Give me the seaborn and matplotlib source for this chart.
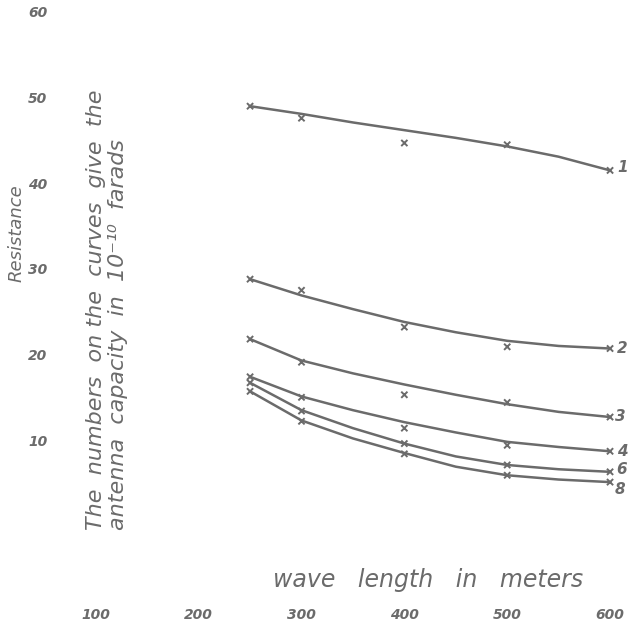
import matplotlib
matplotlib.use("Agg")
import matplotlib.pyplot as plt
import seaborn as sns
import pandas as pd

# values
wave = [250, 300, 350, 400, 450, 500, 550, 600]
curve_1 = [49.0, 48.1, 47.1, 46.2, 45.3, 44.3, 43.1, 41.5]
curve_2 = [28.8, 26.9, 25.3, 23.8, 22.6, 21.6, 21.0, 20.7]
curve_3 = [21.8, 19.3, 17.8, 16.5, 15.3, 14.2, 13.3, 12.7]
curve_4 = [17.4, 15.1, 13.5, 12.1, 10.9, 9.8, 9.2, 8.7]
curve_6 = [16.7, 13.5, 11.4, 9.6, 8.1, 7.1, 6.6, 6.3]
curve_8 = [15.7, 12.3, 10.2, 8.5, 6.9, 5.9, 5.4, 5.1]

meas_wave = [250, 300, 400, 500, 600]
meas_1 = [49.0, 47.6, 44.7, 44.5, 41.5]
meas_2 = [28.8, 27.5, 23.2, 20.9, 20.7]
meas_3 = [21.8, 19.1, 15.3, 14.4, 12.7]
meas_4 = [17.4, 15.0, 11.4, 9.4, 8.7]
meas_6 = [16.7, 13.4, 9.6, 7.1, 6.3]
meas_8 = [15.7, 12.2, 8.4, 5.9, 5.1]

curve_names = ["1", "2", "3", "4", "6", "8"]
xticks = [100, 200, 300, 400, 500, 600]
yticks = [10, 20, 30, 40, 50, 60]

curves = [curve_1, curve_2, curve_3, curve_4, curve_6, curve_8]
meas = [meas_1, meas_2, meas_3, meas_4, meas_6, meas_8]

line_df = pd.concat([pd.DataFrame({"wave": wave, "R": c, "curve": n})
                     for c, n in zip(curves, curve_names)])
meas_df = pd.concat([pd.DataFrame({"wave": meas_wave, "R": m, "curve": n})
                     for m, n in zip(meas, curve_names)])

ink = "#6b6b6b"
sns.set_style("white")
plt.rcParams["font.family"] = ["DejaVu Sans"]

fig = plt.figure(figsize=(6.3, 6.3), dpi=100)
ax = fig.add_axes([60 / 630, 40 / 630, 570 / 630, 590 / 630])

pal = {n: ink for n in curve_names}
sns.lineplot(data=line_df, x="wave", y="R", hue="curve", palette=pal,
             linewidth=1.8, legend=False, ax=ax)
sns.scatterplot(data=meas_df, x="wave", y="R", hue="curve", palette=pal,
                marker="x", s=20, linewidth=1.4, legend=False, ax=ax)

# numbers at the right end of each curve
label_off = {"1": (13, 3), "2": (12, 0), "3": (10, 1), "4": (12, 0), "6": (11, 2), "8": (10, -7)}
for c, n in zip(curves, curve_names):
    ax.annotate(n, (wave[-1], c[-1]), xytext=label_off[n], textcoords="offset pixels",
                ha="center", va="center", fontsize=11, style="italic",
                fontweight="bold", color=ink)

ax.set_xlim(65.2, 619.4)
ax.set_ylim(-7.5, 61.4)
ax.set_xticks(xticks)
ax.set_yticks(yticks)
ax.set_xticklabels([str(t) for t in xticks], fontsize=10, style="italic",
                   fontweight="bold", color=ink)
ax.set_yticklabels([str(t) for t in yticks], fontsize=10, style="italic",
                   fontweight="bold", color=ink)
ax.tick_params(axis="both", length=0)
ax.tick_params(axis="x", pad=13)
ax.tick_params(axis="y", pad=9)
for s in ax.spines.values():
    s.set_visible(False)

ax.set_xlabel("wave   length   in   meters", fontsize=17, style="italic", color=ink)
ax.xaxis.set_label_coords(0.646, 0.038)
ax.set_ylabel("Resistance", fontsize=13, style="italic", color=ink)
ax.yaxis.set_label_coords(-0.06, 0.605)

note = ax.text(47 / 570, (590 - 530) / 590,
               "The  numbers  on the  curves  give  the\nantenna  capacity  in  10\u207b\u00b9\u2070  farads",
               transform=ax.transAxes, rotation=90, ha="center", va="bottom",
               multialignment="left", fontsize=16, style="italic", color=ink,
               linespacing=1.1)

fig.savefig("out.png", dpi=100)
